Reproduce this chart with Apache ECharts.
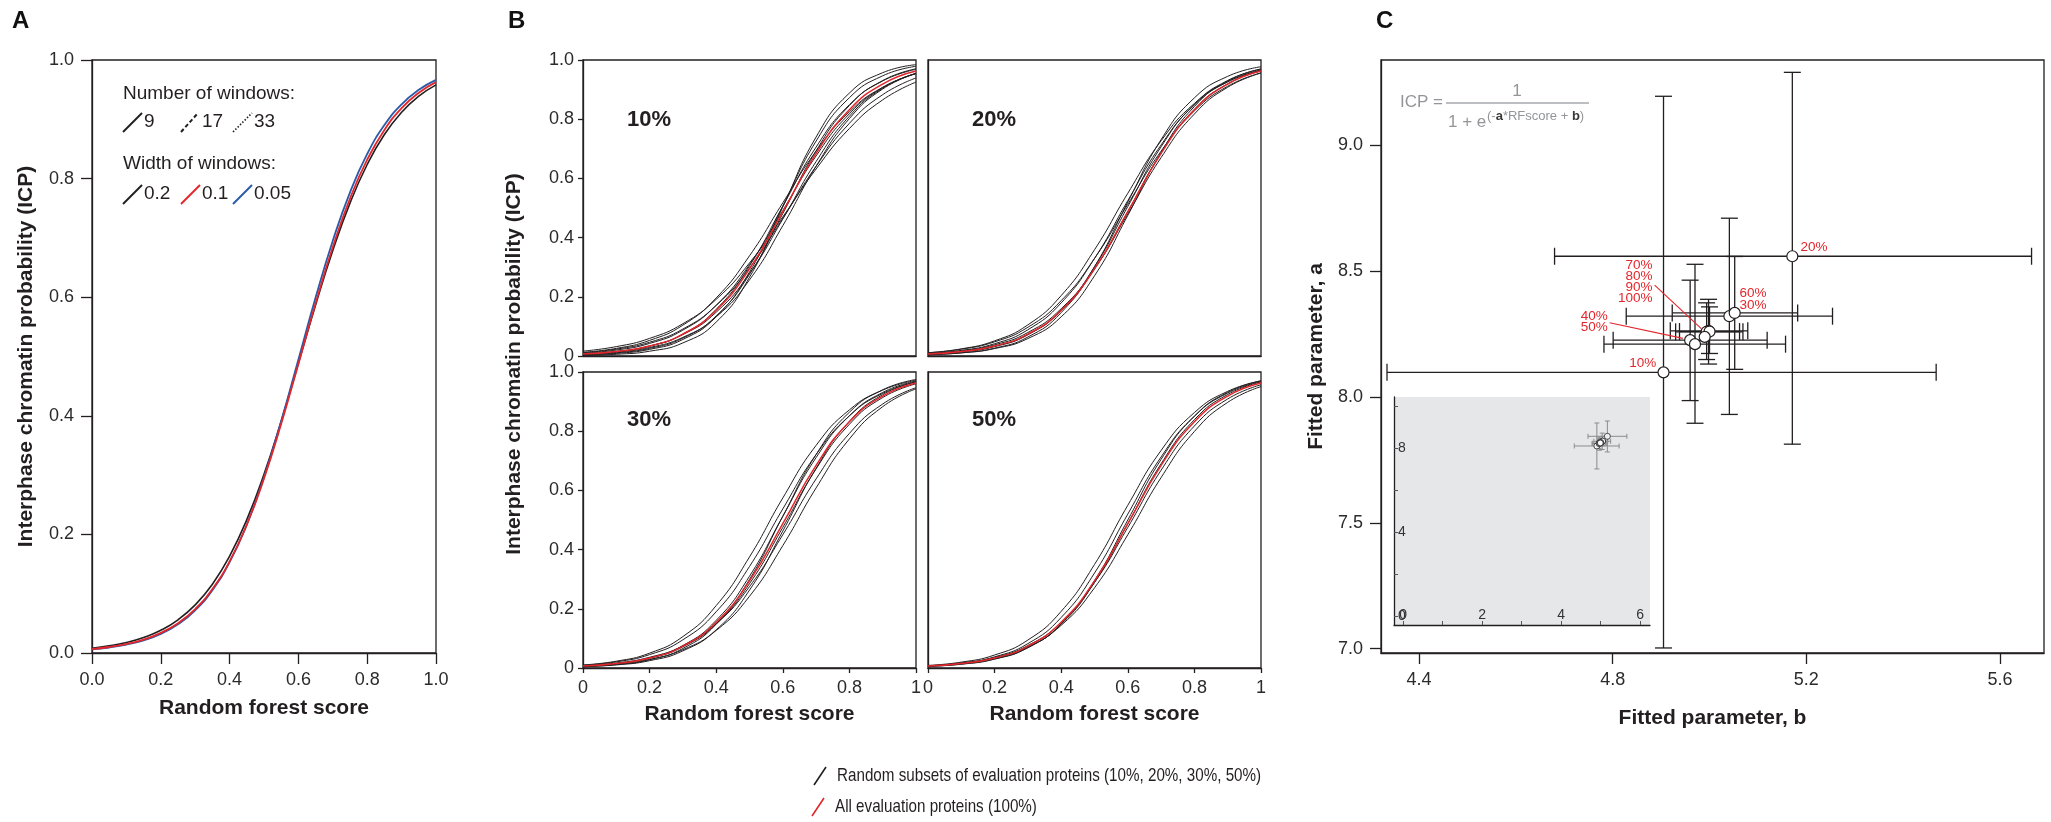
<!DOCTYPE html>
<html>
<head>
<meta charset="utf-8">
<script src="https://cdn.jsdelivr.net/npm/echarts@6/dist/echarts.min.js"></script>
<style>html,body{margin:0;padding:0;background:#fff}#chart{width:2051px;height:822px}</style>
</head>
<body>
<div id="chart"></div>
<script>
// ---------- DATA ----------
// Panel A: ICP vs random forest score (x step 0.05)
const xsA = [0,0.05,0.1,0.15,0.2,0.25,0.3,0.35,0.4,0.45,0.5,0.55,0.6,0.65,0.7,0.75,0.8,0.85,0.9,0.95,1];
const icpWidth02 = [0.0081,0.0120,0.0177,0.0261,0.0383,0.0560,0.0811,0.1160,0.1633,0.2250,0.3015,0.3910,0.4885,0.5868,0.6788,0.7586,0.8238,0.8743,0.9118,0.9390,0.9581];
const icpWidth01 = [0.0067,0.0101,0.0151,0.0227,0.0339,0.0503,0.0741,0.1079,0.1545,0.2163,0.2942,0.3864,0.4875,0.5896,0.6846,0.7663,0.8320,0.8821,0.9187,0.9447,0.9627];
const icpWidth005 = [0.0061,0.0093,0.0141,0.0214,0.0323,0.0485,0.0721,0.1060,0.1532,0.2163,0.2963,0.3911,0.4950,0.5993,0.6953,0.7769,0.8416,0.8902,0.9252,0.9497,0.9665];

// Panel B: x step 0.1
const xsB = [0,0.1,0.2,0.3,0.4,0.5,0.6,0.7,0.8,0.9,1];
const icpAll = [0.0067,0.0151,0.0339,0.0741,0.1545,0.2942,0.4875,0.6846,0.8320,0.9187,0.9627];
const subset10 = [
  [0.0166,0.0317,0.0595,0.1091,0.1915,0.3143,0.4700,0.6318,0.7685,0.8653,0.9255],
  [0.0114,0.0232,0.0465,0.0911,0.1708,0.2974,0.4651,0.6411,0.7859,0.8829,0.9393],
  [0.0094,0.0201,0.0425,0.0875,0.1715,0.3090,0.4913,0.6759,0.8183,0.9068,0.9546],
  [0.0070,0.0155,0.0339,0.0724,0.1480,0.2789,0.4626,0.6570,0.8100,0.9047,0.9548],
  [0.0062,0.0144,0.0331,0.0741,0.1578,0.3047,0.5062,0.7058,0.8488,0.9292,0.9685],
  [0.0044,0.0107,0.0257,0.0604,0.1353,0.2759,0.4813,0.6932,0.8462,0.9306,0.9703],
  [0.0034,0.0088,0.0224,0.0560,0.1330,0.2839,0.5062,0.7261,0.8727,0.9466,0.9787],
  [0.0021,0.0058,0.0162,0.0442,0.1146,0.2660,0.5037,0.7398,0.8884,0.9571,0.9842],
  [0.0125,0.0258,0.0527,0.1043,0.1962,0.3385,0.5175,0.6921,0.8249,0.9080,0.9539],
  [0.0057,0.0129,0.0288,0.0630,0.1324,0.2573,0.4403,0.6411,0.8022,0.9020,0.9544]
];
const subset20 = [
  [0.0109,0.0230,0.0479,0.0971,0.1870,0.3296,0.5125,0.6921,0.8278,0.9113,0.9565],
  [0.0080,0.0175,0.0377,0.0794,0.1598,0.2952,0.4800,0.6704,0.8176,0.9080,0.9560],
  [0.0085,0.0189,0.0415,0.0887,0.1795,0.3296,0.5250,0.7130,0.8481,0.9262,0.9658],
  [0.0065,0.0148,0.0333,0.0731,0.1532,0.2932,0.4875,0.6857,0.8334,0.9198,0.9634],
  [0.0058,0.0137,0.0317,0.0717,0.1545,0.3015,0.5050,0.7068,0.8507,0.9309,0.9696],
  [0.0043,0.0105,0.0251,0.0590,0.1324,0.2709,0.4750,0.6879,0.8429,0.9289,0.9696],
  [0.0043,0.0108,0.0266,0.0642,0.1468,0.3015,0.5200,0.7311,0.8721,0.9448,0.9773],
  [0.0112,0.0241,0.0512,0.1053,0.2042,0.3589,0.5498,0.7271,0.8532,0.9269,0.9651]
];
const subset30 = [
  [0.0080,0.0171,0.0363,0.0751,0.1493,0.2749,0.4502,0.6388,0.7925,0.8919,0.9469],
  [0.0095,0.0208,0.0452,0.0953,0.1900,0.3430,0.5374,0.7211,0.8520,0.9276,0.9661],
  [0.0066,0.0148,0.0329,0.0717,0.1493,0.2850,0.4750,0.6726,0.8234,0.9137,0.9601],
  [0.0064,0.0148,0.0339,0.0759,0.1611,0.3100,0.5125,0.7109,0.8520,0.9309,0.9693],
  [0.0044,0.0105,0.0248,0.0579,0.1290,0.2631,0.4626,0.6748,0.8334,0.9234,0.9668],
  [0.0104,0.0230,0.0502,0.1062,0.2108,0.3752,0.5744,0.7521,0.8721,0.9388,0.9718],
  [0.0061,0.0134,0.0290,0.0618,0.1268,0.2423,0.4134,0.6083,0.7738,0.8829,0.9432],
  [0.0047,0.0115,0.0279,0.0660,0.1480,0.2994,0.5125,0.7211,0.8641,0.9399,0.9747]
];
const subset50 = [
  [0.0074,0.0163,0.0356,0.0759,0.1545,0.2891,0.4750,0.6682,0.8176,0.9089,0.9569],
  [0.0074,0.0168,0.0377,0.0824,0.1708,0.3208,0.5200,0.7130,0.8507,0.9289,0.9677],
  [0.0058,0.0134,0.0308,0.0691,0.1480,0.2891,0.4875,0.6900,0.8389,0.9241,0.9661],
  [0.0088,0.0198,0.0439,0.0945,0.1915,0.3498,0.5498,0.7350,0.8630,0.9347,0.9701],
  [0.0054,0.0127,0.0299,0.0685,0.1493,0.2952,0.5000,0.7048,0.8507,0.9316,0.9701],
  [0.0071,0.0155,0.0336,0.0711,0.1443,0.2709,0.4502,0.6434,0.7990,0.8975,0.9508]
];
const subsetNames = ['10%','20%','30%','50%'];

// Panel C: fitted parameters (b on x, a on y) with error ranges
const pctLabels = ['10%','20%','30%','40%','50%','60%','70%','80%','90%','100%'];
const fitB  = [4.905,5.171,5.041,4.960,4.970,5.052,4.998,4.994,5.000,4.990];
const fitA  = [8.097,8.558,8.320,8.225,8.209,8.333,8.262,8.258,8.259,8.238];
const bLow  = [4.334,4.680,4.828,4.801,4.782,4.923,4.919,4.930,4.938,null];
const bHigh = [5.468,5.665,5.254,5.119,5.157,5.182,5.079,5.069,5.062,null];
const aLow  = [7.003,7.812,7.930,7.985,7.895,8.109,8.130,8.148,8.172,null];
const aHigh = [9.193,9.288,8.709,8.463,8.526,8.557,8.387,8.373,8.357,null];
// annotation labels placed in data coordinates
const annText  = ['70%\n80%\n90%\n100%','40%\n50%','10%','60%\n30%','20%'];
const annB     = [4.8825,4.790,4.890,5.062,5.188];
const annA     = [8.4565,8.298,8.133,8.387,8.594];
const annAlign = ['right','right','right','left','left'];
const leaderFromB = [4.8866,4.7938], leaderFromA = [8.443,8.294];
const leaderToB   = [4.983,4.945],   leaderToA   = [8.271,8.232];

const ticksCb = [4.4,4.8,5.2,5.6];
const ticksCa = [7.0,7.5,8.0,8.5,9.0];
const insetTicksX = [0,1,2,3,4,5,6], insetLabelsX = [0,2,4,6];
const insetTicksY = [0,2,4,6,8,10], insetLabelsY = [0,4,8];

// ---------- STYLE ----------
const FONT = '"Liberation Sans", Arial, Helvetica, sans-serif';
const INK = '#231f20';
const LBL = '#2b2b2b';
const RED = '#e3262c';
const BLUE = '#2b5ba8';
const GREYTXT = '#939598';

const chart = echarts.init(document.getElementById('chart'), null, {renderer: 'canvas'});

const gridBox = {show: true, borderColor: INK, borderWidth: 1.3, backgroundColor: 'transparent', containLabel: false};
const grids = [
  Object.assign({left: 92,  top: 60,  width: 344, height: 593}, gridBox),   // 0 A
  Object.assign({left: 583, top: 60,  width: 333, height: 296}, gridBox),   // 1 B 10%
  Object.assign({left: 928, top: 60,  width: 333, height: 296}, gridBox),   // 2 B 20%
  Object.assign({left: 583, top: 372, width: 333, height: 296}, gridBox),   // 3 B 30%
  Object.assign({left: 928, top: 372, width: 333, height: 296}, gridBox),   // 4 B 50%
  Object.assign({left: 1381, top: 60, width: 663, height: 593}, gridBox),   // 5 C
  {left: 1394, top: 397, width: 256, height: 228, show: true, backgroundColor: '#e6e7e8', borderWidth: 0} // 6 inset
];

const nameStyle = {color: INK, fontSize: 21, fontWeight: 'bold', fontFamily: FONT};
function axisBase(gridIndex, o) {
  const a = {
    type: 'value', gridIndex,
    splitLine: {show: false},
    axisLine: {show: true, onZero: false, lineStyle: {color: INK, width: 1.3}},
    axisTick: {show: true, length: 11, lineStyle: {color: INK, width: 1.3}},
    axisLabel: {show: true, color: LBL, fontSize: 18, fontFamily: FONT, margin: 18},
    nameTextStyle: nameStyle
  };
  for (const k in o) {
    if (typeof o[k] === 'object' && o[k] && !Array.isArray(o[k]) && a[k]) a[k] = Object.assign({}, a[k], o[k]);
    else a[k] = o[k];
  }
  return a;
}
const fmt1 = v => v.toFixed(1);
const fmtBx = v => (v === 0 ? '0' : (Math.abs(v - 1) < 1e-9 ? '1' : v.toFixed(1)));
const fmtBy = v => (v === 0 ? '0' : v.toFixed(1));

const xAxes = [
  axisBase(0, {min: 0, max: 1, interval: 0.2, axisLabel: {formatter: fmt1},
    name: 'Random forest score', nameLocation: 'middle', nameGap: 45}),
  axisBase(1, {min: 0, max: 1, interval: 0.2, axisTick: {show: false}, axisLabel: {show: false}}),
  axisBase(2, {min: 0, max: 1, interval: 0.2, axisTick: {show: false}, axisLabel: {show: false}}),
  axisBase(3, {min: 0, max: 1, interval: 0.2, axisTick: {length: 5}, axisLabel: {formatter: fmtBx, margin: 11},
    name: 'Random forest score', nameLocation: 'middle', nameGap: 36}),
  axisBase(4, {min: 0, max: 1, interval: 0.2, axisTick: {length: 5}, axisLabel: {formatter: fmtBx, margin: 11},
    name: 'Random forest score', nameLocation: 'middle', nameGap: 36}),
  axisBase(5, {min: 4.3216, max: 5.6907,
    axisTick: {customValues: ticksCb}, axisLabel: {customValues: ticksCb, formatter: fmt1},
    name: 'Fitted parameter, b', nameLocation: 'middle', nameGap: 55}),
  axisBase(6, {min: -0.23, max: 6.25,
    axisLine: {lineStyle: {color: INK, width: 1.3}},
    axisTick: {customValues: insetTicksX, inside: true, length: 4, lineStyle: {color: '#555', width: 1}},
    axisLabel: {customValues: insetLabelsX, inside: true, margin: 3, fontSize: 14, color: '#333'}})
];
const yAxes = [
  axisBase(0, {min: 0, max: 1, interval: 0.2, axisLabel: {formatter: fmt1},
    name: 'Interphase chromatin probability (ICP)', nameLocation: 'middle', nameGap: 55}),
  axisBase(1, {min: 0, max: 1, interval: 0.2, axisTick: {length: 5}, axisLabel: {formatter: fmtBy, margin: 9}}),
  axisBase(2, {min: 0, max: 1, interval: 0.2, axisTick: {show: false}, axisLabel: {show: false}}),
  axisBase(3, {min: 0, max: 1, interval: 0.2, axisTick: {length: 5}, axisLabel: {formatter: fmtBy, margin: 9}}),
  axisBase(4, {min: 0, max: 1, interval: 0.2, axisTick: {show: false}, axisLabel: {show: false}}),
  axisBase(5, {min: 6.983, max: 9.337,
    axisTick: {customValues: ticksCa}, axisLabel: {customValues: ticksCa, formatter: fmt1},
    name: 'Fitted parameter, a', nameLocation: 'middle', nameGap: 54}),
  axisBase(6, {min: -0.43, max: 10.43,
    axisTick: {customValues: insetTicksY, inside: true, length: 4, lineStyle: {color: '#555', width: 1}},
    axisLabel: {customValues: insetLabelsY, inside: true, margin: 4, fontSize: 14, color: '#333'}})
];

const series = [];
function pairs(xs, ys) { return xs.map((x, i) => [x, ys[i]]); }
function curve(name, gi, xs, ys, color, width, z) {
  series.push({type: 'line', name, xAxisIndex: gi, yAxisIndex: gi, data: pairs(xs, ys),
    smooth: true, showSymbol: false, symbol: 'none', silent: true, z: z || 2,
    lineStyle: {color, width}});
}
// Panel A
curve('width 0.2', 0, xsA, icpWidth02, INK, 1.6, 2);
curve('width 0.05', 0, xsA, icpWidth005, BLUE, 1.8, 3);
curve('width 0.1', 0, xsA, icpWidth01, RED, 1.8, 4);
// Panel B
[subset10, subset20, subset30, subset50].forEach((set, p) => {
  set.forEach((ys, k) => curve(subsetNames[p] + ' subset ' + (k + 1), p + 1, xsB, ys, INK, 1, 2));
  curve('100%', p + 1, xsB, icpAll, RED, 1.5, 5);
});

// Panel C error bars
const errData = [];
for (let i = 0; i < pctLabels.length; i++) {
  if (bLow[i] === null) continue;
  errData.push([fitB[i], fitA[i], bLow[i], bHigh[i], aLow[i], aHigh[i]]);
}
function errRender(cap, color, lw) {
  return function (params, api) {
    const b = api.value(0), a = api.value(1);
    const pL = api.coord([api.value(2), a]), pR = api.coord([api.value(3), a]);
    const pB = api.coord([b, api.value(4)]), pT = api.coord([b, api.value(5)]);
    const h = cap / 2;
    const style = {stroke: color, lineWidth: lw};
    const mk = (x1, y1, x2, y2) => ({type: 'line', shape: {x1, y1, x2, y2}, style});
    return {type: 'group', children: [
      mk(pL[0], pL[1], pR[0], pR[1]), mk(pL[0], pL[1] - h, pL[0], pL[1] + h), mk(pR[0], pR[1] - h, pR[0], pR[1] + h),
      mk(pB[0], pB[1], pT[0], pT[1]), mk(pB[0] - h, pB[1], pB[0] + h, pB[1]), mk(pT[0] - h, pT[1], pT[0] + h, pT[1])
    ]};
  };
}
const pointData = fitB.map((b, i) => [b, fitA[i]]);
series.push({type: 'custom', name: 'error bars', xAxisIndex: 5, yAxisIndex: 5, data: errData,
  renderItem: errRender(17, INK, 1.3), encode: {x: 0, y: 1}, silent: true, z: 3});
// leader lines
series.push({type: 'custom', name: 'leaders', xAxisIndex: 5, yAxisIndex: 5,
  data: leaderFromB.map((b, i) => [b, leaderFromA[i], leaderToB[i], leaderToA[i]]),
  renderItem: function (params, api) {
    const p1 = api.coord([api.value(0), api.value(1)]), p2 = api.coord([api.value(2), api.value(3)]);
    return {type: 'line', shape: {x1: p1[0], y1: p1[1], x2: p2[0], y2: p2[1]}, style: {stroke: RED, lineWidth: 1.1}};
  }, encode: {x: 0, y: 1}, silent: true, z: 4});
series.push({type: 'scatter', name: 'fits', xAxisIndex: 5, yAxisIndex: 5, data: pointData,
  symbol: 'circle', symbolSize: 11, silent: true, z: 6,
  itemStyle: {color: '#ffffff', borderColor: INK, borderWidth: 1.2, opacity: 1}});
// annotations
series.push({type: 'custom', name: 'labels', xAxisIndex: 5, yAxisIndex: 5,
  data: annB.map((b, i) => [b, annA[i], i]),
  renderItem: function (params, api) {
    const i = api.value(2);
    const p = api.coord([api.value(0), api.value(1)]);
    return {type: 'text', x: p[0], y: p[1], style: {text: annText[i], fill: RED, fontSize: 13.5, fontFamily: FONT,
      align: annAlign[i], verticalAlign: 'middle', lineHeight: 11.2}};
  }, encode: {x: 0, y: 1}, silent: true, z: 7});
// Inset
series.push({type: 'custom', name: 'inset error bars', xAxisIndex: 6, yAxisIndex: 6, data: errData,
  renderItem: errRender(5, '#8a8c8f', 1), encode: {x: 0, y: 1}, silent: true, z: 3});
series.push({type: 'scatter', name: 'inset fits', xAxisIndex: 6, yAxisIndex: 6, data: pointData,
  symbol: 'circle', symbolSize: 6, silent: true, z: 6,
  itemStyle: {color: '#ffffff', borderColor: INK, borderWidth: 1}});

// ---------- GRAPHIC TEXT / LEGENDS ----------
const T = (x, y, text, o, extra) => Object.assign({type: 'text', x, y, z: 100, silent: true,
  style: Object.assign({text, fill: INK, fontSize: 19, fontFamily: FONT, align: 'left', verticalAlign: 'middle'}, o || {})}, extra || {});
const L = (x1, y1, x2, y2, stroke, lw, dash) => ({type: 'line', z: 100, silent: true,
  shape: {x1, y1, x2, y2}, style: {stroke, lineWidth: lw, lineDash: dash || null}});

const graphic = [
  T(12, 21, 'A', {fontSize: 24, fontWeight: 'bold', fill: '#111'}),
  T(508, 21, 'B', {fontSize: 24, fontWeight: 'bold', fill: '#111'}),
  T(1376, 21, 'C', {fontSize: 24, fontWeight: 'bold', fill: '#111'}),
  // Panel A legend
  T(123, 94, 'Number of windows:'),
  L(123, 132, 142, 113, INK, 2), T(144, 122, '9'),
  L(181, 132, 198, 113, INK, 2, [4, 2.5]), T(202, 122, '17'),
  L(233, 132, 252, 113, INK, 1.6, [1.5, 1.8]), T(254, 122, '33'),
  T(123, 164, 'Width of windows:'),
  L(123, 204, 142, 185, INK, 2), T(144, 194, '0.2'),
  L(181, 204, 200, 185, RED, 2), T(202, 194, '0.1'),
  L(233, 204, 252, 185, BLUE, 2), T(254, 194, '0.05'),
  // Panel B titles
  {type: 'text', x: 514, y: 364, rotation: Math.PI / 2, z: 100, silent: true,
    style: {text: 'Interphase chromatin probability (ICP)', fill: INK, fontSize: 21, fontWeight: 'bold', fontFamily: FONT, align: 'center', verticalAlign: 'middle'}},
  T(627, 120, '10%', {fontSize: 22, fontWeight: 'bold'}),
  T(972, 120, '20%', {fontSize: 22, fontWeight: 'bold'}),
  T(627, 420, '30%', {fontSize: 22, fontWeight: 'bold'}),
  T(972, 420, '50%', {fontSize: 22, fontWeight: 'bold'}),
  // Bottom legend (condensed text)
  L(814, 785, 826, 767, INK, 1.6),
  T(0, 0, 'Random subsets of evaluation proteins (10%, 20%, 30%, 50%)', {fontSize: 19}, {x: 837, y: 776, scaleX: 0.8}),
  L(812, 816, 824, 798, RED, 1.6),
  T(0, 0, 'All evaluation proteins (100%)', {fontSize: 19}, {x: 835, y: 807, scaleX: 0.8}),
  // Formula in panel C
  T(1400, 102, 'ICP =', {fontSize: 17, fill: GREYTXT}),
  L(1446, 103, 1589, 103, '#a7a9ac', 1.3),
  T(1517, 91, '1', {fontSize: 17, fill: GREYTXT, align: 'center'}),
  T(1448, 122, '1 + e', {fontSize: 17, fill: GREYTXT}),
  T(1487, 116, '{p|(-}{b|a}{p|*RFscore + }{b|b}{p|)}', {fontSize: 13, fill: GREYTXT,
    rich: {p: {fontSize: 13, fill: GREYTXT, fontFamily: FONT}, b: {fontSize: 13, fill: '#3a3a3a', fontWeight: 'bold', fontFamily: FONT}}})
];

chart.setOption({
  animation: false,
  backgroundColor: '#ffffff',
  textStyle: {fontFamily: FONT},
  grid: grids,
  xAxis: xAxes,
  yAxis: yAxes,
  series,
  graphic
});
</script>
</body>
</html>
